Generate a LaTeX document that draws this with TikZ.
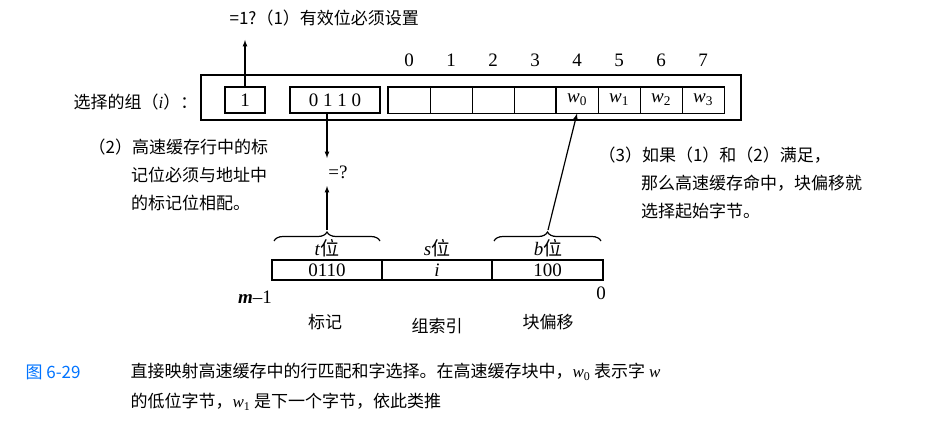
\documentclass[tikz,border=0pt]{standalone}
\usepackage{fontspec}
\setmainfont{Liberation Serif}
\newfontfamily\cjk{Noto Sans CJK SC}
\usetikzlibrary{decorations.pathreplacing}
\newcommand{\wsub}[1]{{\rmfamily\itshape w}{\rmfamily\textsubscript{#1}}}
\tikzset{
  cell/.style={draw,line width=1.8pt,minimum height=26pt,inner sep=0pt},
  lbl/.style={font=\cjk\fontsize{17}{28}\selectfont,align=left,inner sep=0pt},
  num/.style={font=\fontsize{19}{20}\selectfont,inner sep=0pt},
  brc/.style={decorate,decoration={brace,amplitude=9pt},line width=1.2pt}
}
\begin{document}
\begin{tikzpicture}[x=1pt,y=-1pt,>=latex,line width=1.2pt]
  \useasboundingbox (0,0) rectangle (936,436);
  % cache line
  \draw[line width=1.5pt] (201,75) rectangle (741,120);
  \node[lbl,anchor=east] (sel) at (198,102) {选择的组（{\rmfamily\itshape i}）：};
  \node[cell,minimum width=40pt,num] (valid) at (245,100) {1};
  \node[cell,minimum width=90pt,num] (tag) at (335,100) {0 1 1 0};
  \foreach \i in {0,...,7} {
    \node[draw,line width=1pt,minimum width=42pt,minimum height=26pt,inner sep=0pt] (c\i) at (409+42*\i,100) {};
    \node[num] (n\i) at (409+42*\i,60) {\i};
  }
  \foreach \i in {0,...,3} \node[num] at (c\the\numexpr\i+4\relax) {\wsub{\i}};
  \draw[line width=1.8pt] (c4.north west) rectangle (c7.south east);
  \draw[line width=1.8pt] (c0.north west) rectangle (c7.south east);
  % (1)
  \node[lbl,anchor=west] (t1) at (229,18) {=1?（1）有效位必须设置};
  \draw[->] (valid.north) -- (245,40);
  % (2)
  \node[num] (eq) at (338,172) {=?};
  \draw[->] ([xshift=-8pt]tag.south) -- (327,158);
  \node[lbl,anchor=north west] (t2) at (88,138) {（2）高速缓存行中的标\\\hspace{2.5em}记位必须与地址中\\\hspace{2.5em}的标记位相配。};
  % (3)
  \node[lbl,anchor=north west] (t3) at (598,146) {（3）如果（1）和（2）满足，\\\hspace{2.5em}那么高速缓存命中，块偏移就\\\hspace{2.5em}选择起始字节。};
  % address
  \node[draw,minimum width=110pt,minimum height=20pt,inner sep=0pt,num] (at) at (327,270) {0110};
  \node[draw,minimum width=110pt,minimum height=20pt,inner sep=0pt,num] (as) at (437,270) {\textit{i}};
  \node[draw,minimum width=111pt,minimum height=20pt,inner sep=0pt,num] (ab) at (547.5,270) {100};
  \node[num] at (327,248) {\textit{t}{\cjk 位}};
  \node[num] at (437,248) {\textit{s}{\cjk 位}};
  \node[num] at (548,248) {\textit{b}{\cjk 位}};
  \draw[brc] (274,241) -- (380,241) coordinate[midway,yshift=10pt] (bt);
  \draw[brc] (494,241) -- (601,241) coordinate[midway,yshift=10pt] (bb);
  \draw[->] (327,230) -- (327,186);
  \draw[->] (548,230) -- (c4.south);
  \node[num] (m1) at (255,297) {\textit{\textbf{m}}--1};
  \node[num] (z) at (601,293) {0};
  \node[lbl] at (325,322) {标记};
  \node[lbl] at (437,326) {组索引};
  \node[lbl] at (548,322) {块偏移};
  % caption
  \node[lbl,anchor=west,text=blue!55!cyan] (fig) at (25,372) {图 6-29};
  \node[lbl,anchor=west] (cap1) at (130,372) {直接映射高速缓存中的行匹配和字选择。在高速缓存块中，\wsub{0} 表示字 {\rmfamily\itshape w}};
  \node[lbl,anchor=west] (cap2) at (130,402) {的低位字节，\wsub{1} 是下一个字节，依此类推};
\end{tikzpicture}
\end{document}
